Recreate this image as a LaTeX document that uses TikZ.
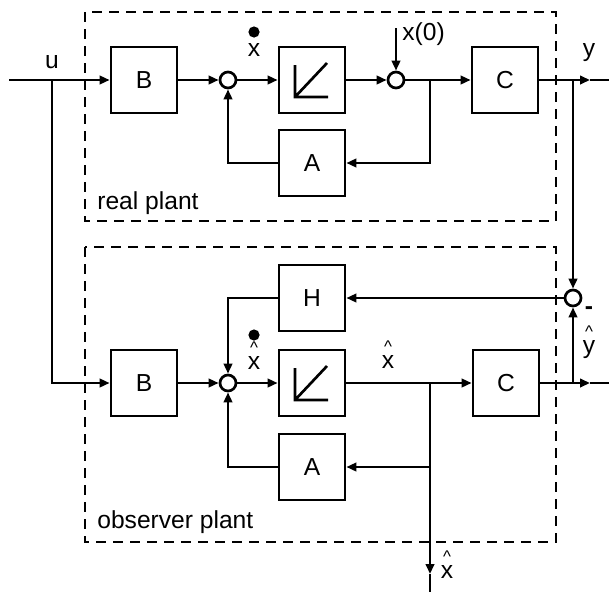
\documentclass[tikz,border=0pt]{standalone}
\usepackage{fontspec}
\setmainfont{Liberation Sans}
\usetikzlibrary{arrows.meta, positioning, calc}

\newcommand{\hatlbl}[1]{\shortstack{\raisebox{-1pt}[0.5em][0pt]{\fontsize{12}{14}\selectfont\textasciicircum}\\#1}}

\tikzset{
  blk/.style={draw, minimum width=16.5mm, minimum height=16.5mm, inner sep=0pt},
  sumc/.style={draw, circle, minimum size=4mm, inner sep=0pt},
  dotm/.style={circle, fill, minimum size=2.8mm, inner sep=0pt},
  plant/.style={dash pattern=on 2.5mm off 1.75mm, line width=1.4pt},
  lbl/.style={inner sep=0pt},
  hatx/.style={inner sep=0pt, anchor=south},
}

\begin{document}
\begin{tikzpicture}[>={Triangle[length=2.5mm,width=2.1mm]}, x=0.025cm, y=-0.025cm,
    line width=1.9pt, font=\fontsize{17.5}{21}\selectfont]
  \useasboundingbox (0,0) rectangle (609,592);
  % plant frames
  \draw[plant] (85,12) rectangle (556,221);
  \draw[plant] (85,247) rectangle (556,542);
  \node[lbl, anchor=west] (rp) at (96,203) {real plant};
  \node[lbl, anchor=west] (op) at (96,522) {observer plant};

  % real plant
  \node[blk] (B1) at (144,80) {B};
  \node[sumc] (S1) at (228,80) {};
  \node[blk] (I1) at (312,80) {};
  \node[blk] (A1) at (312,163) {A};
  \node[sumc] (S2) at (396,80) {};
  \node[blk] (C1) at (505,80) {C};

  % observer plant
  \node[blk] (H) at (312,298) {H};
  \node[blk] (B2) at (144,383) {B};
  \node[sumc] (S3) at (228,383) {};
  \node[blk] (I2) at (312,383) {};
  \node[blk] (A2) at (312,467) {A};
  \node[blk] (C2) at (506,383) {C};
  \node[sumc] (S4) at (573,298) {};

  % integrator symbols
  \foreach \n in {I1,I2}{
    \draw ([shift={(-17,-15)}]\n.center) -- ++(0,32) -- ++(33,0)
          ++(-33,0) -- ++(32,-34);
  }

  \coordinate (uin) at (9,80);
  \coordinate (ubr) at (52,80);
  \coordinate (x0) at (396,28);
  \coordinate (xbr1) at (430,80);
  \coordinate (ybr) at (573,80);
  \coordinate (ytip) at (590,80);
  \coordinate (yout) at (609,80);
  \coordinate (xbr2) at (430,383);
  \coordinate (yhbr) at (573,383);
  \coordinate (yhtip) at (590,383);
  \coordinate (yhout) at (609,383);
  \coordinate (xhtip) at (430,574);
  \coordinate (xhout) at (430,592);

  % real plant connections
  \draw[->] (uin) -- (B1);
  \draw[->] (B1) -- (S1);
  \draw[->] (S1) -- (I1);
  \draw[->] (I1) -- (S2);
  \draw[->] (x0) -- (S2);
  \draw[->] (S2) -- (C1);
  \draw[->] (xbr1) |- (A1);
  \draw[->] (A1) -| (S1);
  \draw[->] (C1) -- (ytip);
  \draw (ytip) -- (yout);
  \draw[->] (ybr) -- (S4);

  % observer connections
  \draw[->] (ubr) |- (B2);
  \draw[->] (B2) -- (S3);
  \draw[->] (S3) -- (I2);
  \draw[->] (I2) -- (C2);
  \draw[->] (xbr2) -- (xhtip);
  \draw (xhtip) -- (xhout);
  \draw[->] (xbr2) |- (A2);
  \draw[->] (A2) -| (S3);
  \draw[->] (H) -| (S3);
  \draw[->] (S4) -- (H);
  \draw[->] (C2) -- (yhtip);
  \draw (yhtip) -- (yhout);
  \draw[->] (yhbr) -- (S4);

  % signal labels
  \node[lbl] (ulbl) at (52,62) {u};
  \node[lbl] (ylbl) at (589,53) {y};
  \node[lbl, anchor=west] (x0lbl) at (401,34) {x(0)};
  \node[dotm] (xd1) at (254,32) {};
  \node[lbl] (xl1) at (254,50) {x};
  \node[dotm] (xd2) at (254,335) {};
  \node[hatx] (xl2) at (254,371) {\hatlbl{x}};
  \node[hatx] (xl3) at (388,370) {\hatlbl{x}};
  \node[hatx] (yl) at (589,360) {\hatlbl{y}};
  \node[lbl] (minus) at (589,311) {\textbf{-}};
  \node[hatx] (xl4) at (447,580) {\hatlbl{x}};
\end{tikzpicture}
\end{document}
